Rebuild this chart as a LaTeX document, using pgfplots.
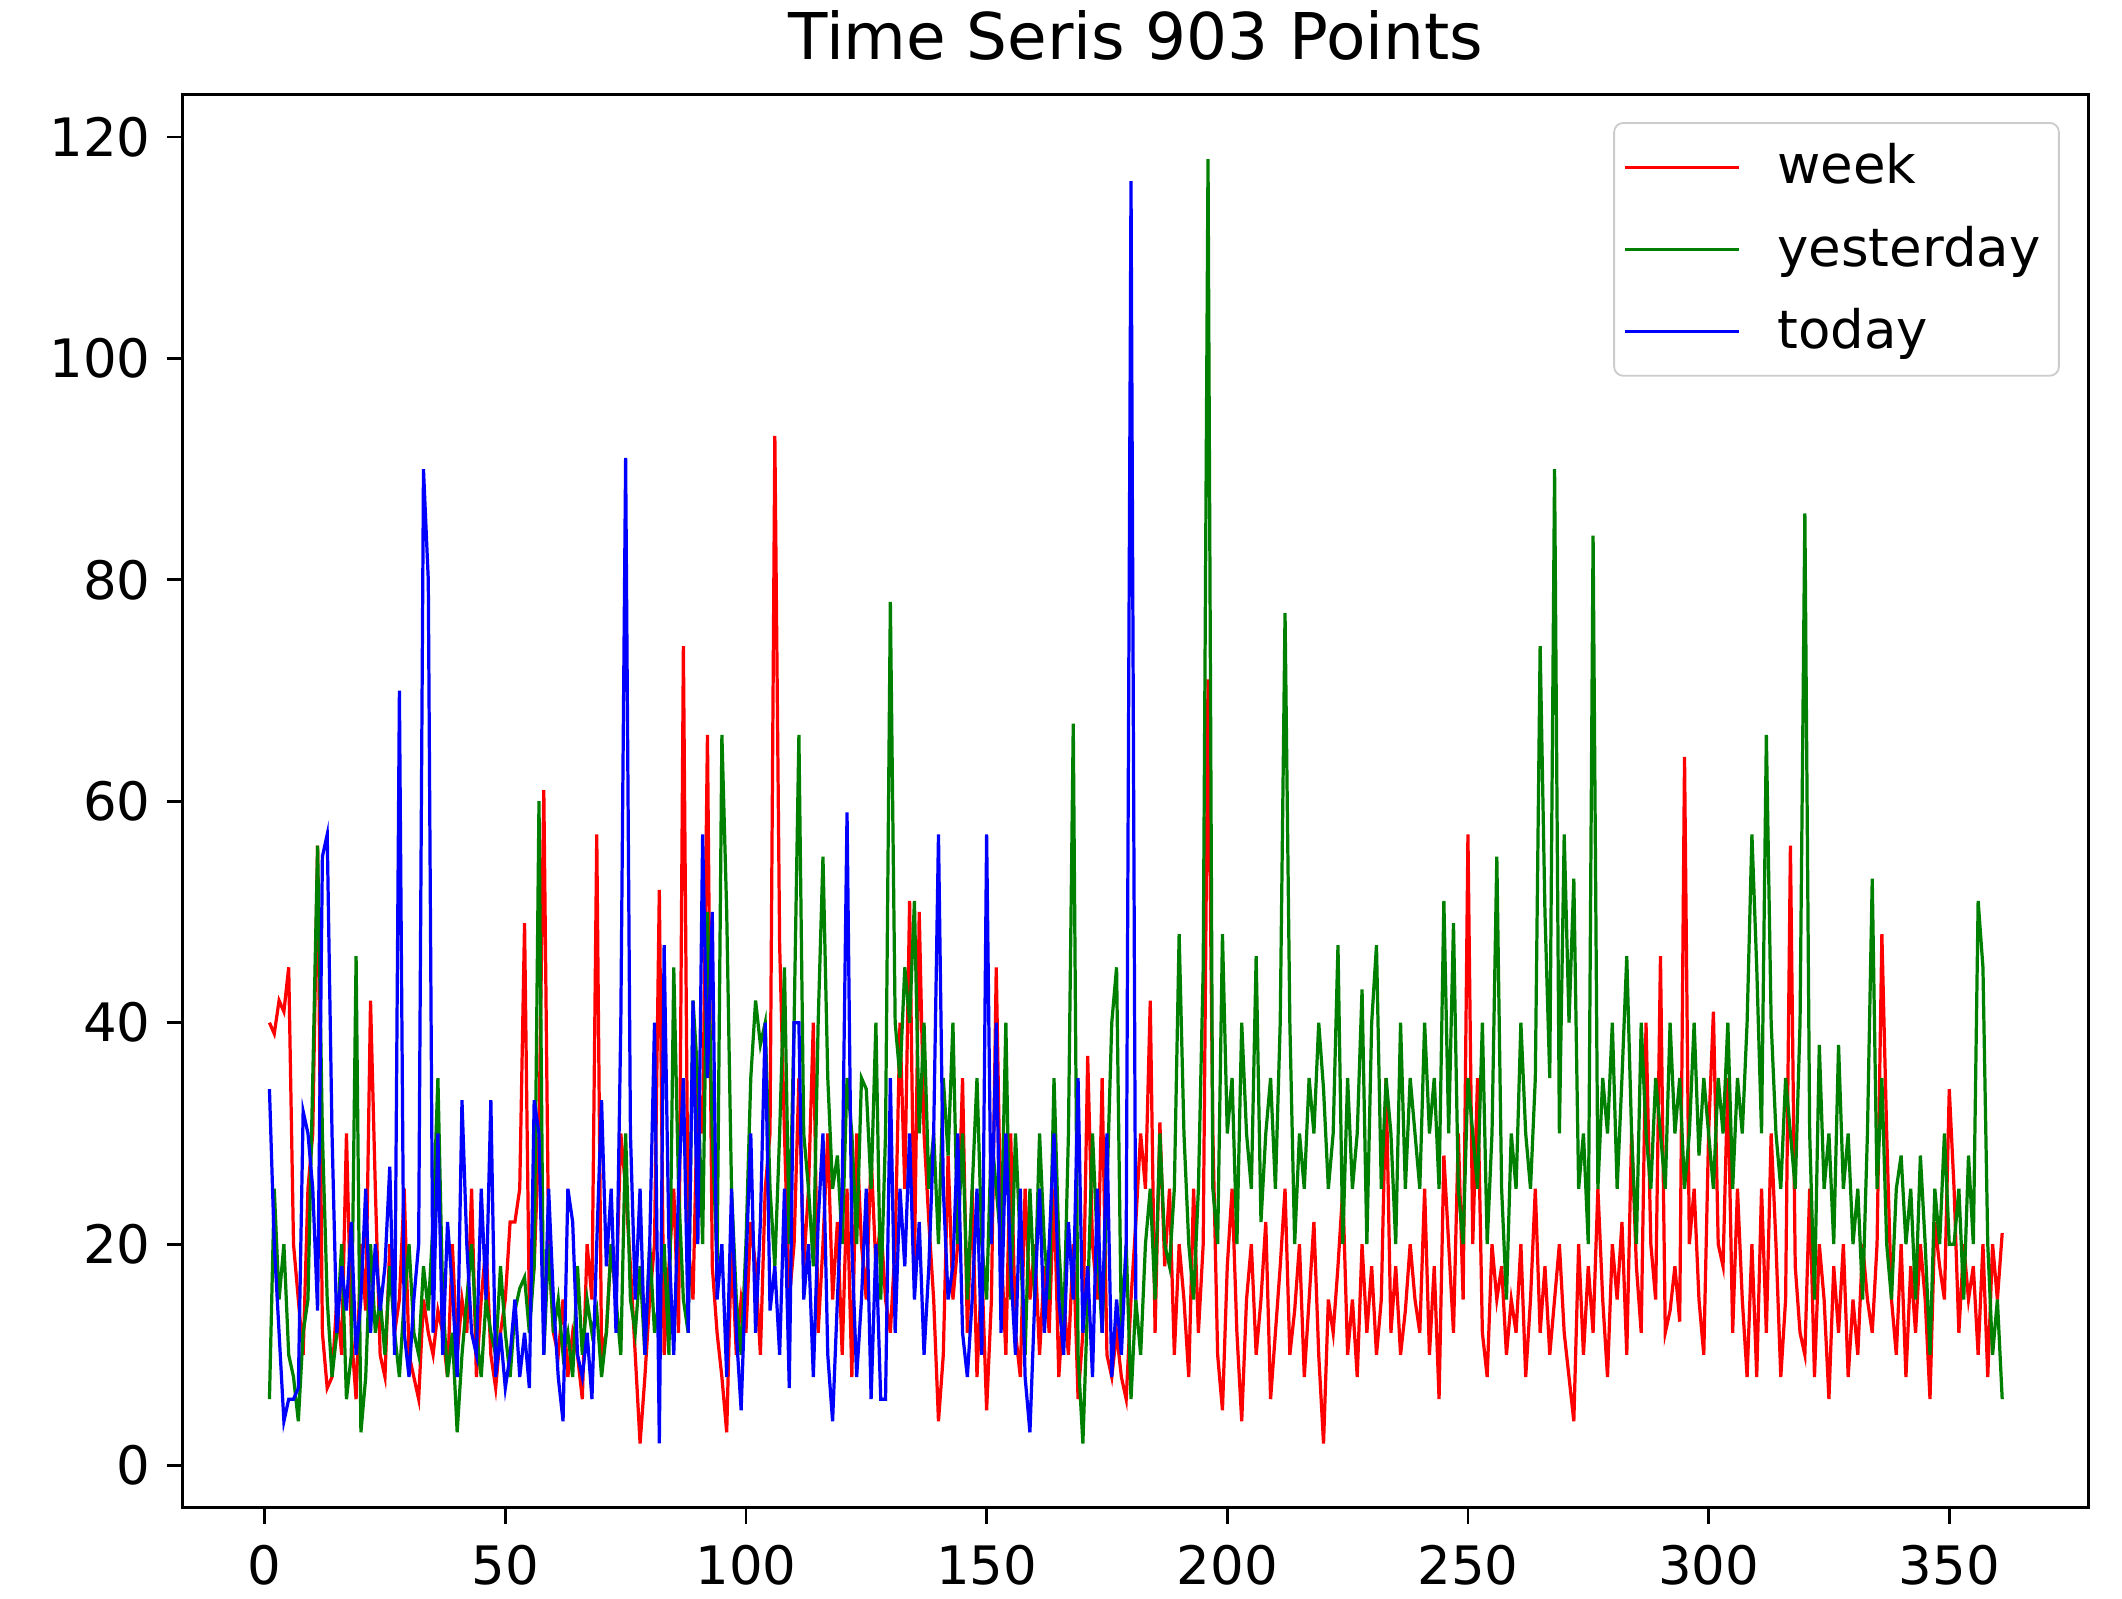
\documentclass[border=0pt]{standalone}
\usepackage{fontspec}
\setmainfont{DejaVu Sans}
\usepackage{pgfplots}
\usepackage{pgfplotstable}
\pgfplotsset{compat=1.18}
\usetikzlibrary{calc}

\pgfplotstableread[row sep=\\]{
y\\
40\\39\\42\\41\\45\\20\\15\\10\\25\\30\\
56\\12\\7\\8\\15\\10\\30\\12\\6\\20\\
14\\42\\25\\10\\8\\20\\12\\15\\25\\10\\
8\\6\\15\\12\\10\\14\\12\\8\\20\\10\\
15\\12\\25\\8\\15\\20\\10\\7\\12\\15\\
22\\22\\25\\49\\14\\18\\30\\61\\20\\12\\
10\\15\\8\\12\\10\\6\\20\\15\\57\\10\\
12\\20\\15\\30\\25\\18\\10\\2\\8\\15\\
20\\52\\10\\18\\25\\12\\74\\20\\15\\35\\
30\\66\\18\\12\\8\\3\\20\\10\\15\\12\\
22\\18\\10\\25\\30\\93\\47\\30\\15\\20\\
35\\18\\25\\40\\12\\20\\30\\15\\22\\10\\
25\\8\\30\\20\\15\\28\\18\\22\\15\\12\\
20\\40\\25\\51\\18\\50\\30\\22\\15\\4\\
10\\28\\15\\20\\35\\12\\25\\8\\18\\5\\
15\\45\\20\\10\\30\\12\\8\\25\\15\\20\\
10\\18\\12\\25\\8\\15\\10\\20\\6\\12\\
37\\20\\15\\35\\10\\8\\12\\8\\6\\15\\
22\\30\\25\\42\\12\\31\\18\\25\\10\\20\\
15\\8\\25\\12\\20\\71\\30\\10\\5\\18\\
25\\12\\4\\15\\20\\10\\15\\22\\6\\12\\
18\\25\\10\\14\\20\\8\\15\\22\\10\\2\\
15\\12\\18\\25\\10\\15\\8\\20\\12\\18\\
10\\15\\35\\12\\18\\10\\14\\20\\15\\12\\
25\\10\\18\\6\\28\\20\\12\\30\\15\\57\\
20\\35\\12\\8\\20\\15\\18\\10\\15\\12\\
20\\8\\15\\25\\12\\18\\10\\15\\20\\12\\
8\\4\\20\\10\\18\\12\\25\\15\\8\\20\\
15\\22\\10\\30\\18\\12\\40\\20\\15\\46\\
12\\14\\18\\13\\64\\20\\25\\15\\10\\30\\
41\\20\\18\\35\\12\\25\\15\\8\\20\\8\\
25\\12\\30\\20\\8\\15\\56\\18\\12\\10\\
25\\8\\20\\15\\6\\18\\12\\20\\8\\15\\
10\\20\\15\\12\\20\\48\\30\\15\\10\\20\\
8\\18\\12\\20\\15\\6\\22\\18\\15\\34\\
25\\12\\20\\15\\18\\10\\20\\8\\20\\15\\
21\\
}\weektable

\pgfplotstableread[row sep=\\]{
y\\
6\\25\\15\\20\\10\\8\\4\\12\\15\\35\\
56\\30\\15\\8\\12\\20\\6\\10\\46\\3\\
8\\20\\12\\15\\10\\18\\12\\8\\15\\20\\
12\\10\\18\\14\\22\\35\\15\\8\\12\\3\\
10\\15\\20\\12\\8\\15\\12\\10\\18\\12\\
8\\14\\16\\17\\12\\18\\60\\10\\20\\12\\
15\\10\\12\\8\\18\\10\\15\\12\\14\\8\\
12\\20\\15\\10\\30\\15\\12\\18\\10\\20\\
12\\15\\20\\10\\45\\25\\15\\12\\42\\35\\
20\\50\\30\\18\\66\\50\\25\\15\\10\\20\\
35\\42\\38\\40\\25\\18\\30\\45\\20\\40\\
66\\30\\25\\18\\40\\55\\35\\25\\28\\20\\
35\\30\\20\\35\\34\\25\\40\\15\\30\\78\\
40\\35\\45\\40\\51\\30\\40\\25\\30\\20\\
35\\28\\40\\20\\30\\15\\25\\35\\20\\15\\
30\\25\\20\\40\\15\\30\\20\\10\\25\\15\\
30\\20\\15\\35\\20\\12\\30\\67\\10\\2\\
15\\30\\20\\12\\25\\40\\45\\12\\20\\6\\
15\\10\\20\\25\\15\\30\\20\\18\\25\\48\\
30\\20\\15\\25\\45\\118\\25\\20\\48\\30\\
35\\20\\40\\30\\25\\46\\22\\30\\35\\25\\
40\\77\\40\\20\\30\\25\\35\\30\\40\\34\\
25\\30\\47\\20\\35\\25\\30\\43\\20\\40\\
47\\25\\35\\30\\20\\40\\25\\35\\30\\25\\
40\\30\\35\\25\\51\\30\\49\\25\\20\\35\\
30\\25\\40\\20\\30\\55\\25\\15\\30\\25\\
40\\30\\25\\35\\74\\50\\35\\90\\30\\57\\
40\\53\\25\\30\\20\\84\\25\\35\\30\\40\\
25\\35\\46\\30\\20\\40\\30\\25\\35\\30\\
25\\40\\30\\35\\25\\30\\40\\28\\35\\30\\
25\\35\\30\\40\\25\\35\\30\\40\\57\\45\\
30\\66\\40\\30\\25\\35\\30\\25\\40\\86\\
30\\15\\38\\25\\30\\20\\38\\25\\30\\20\\
25\\15\\30\\53\\25\\35\\20\\15\\25\\28\\
20\\25\\15\\28\\20\\10\\25\\20\\30\\20\\
20\\25\\15\\28\\20\\51\\45\\20\\10\\15\\
6\\
}\yesterdaytable

\pgfplotstableread[row sep=\\]{
y\\
34\\20\\12\\4\\6\\
6\\7\\32\\30\\25\\
14\\55\\57\\30\\12\\
18\\14\\22\\10\\15\\
25\\12\\20\\14\\18\\
27\\10\\70\\12\\8\\
15\\20\\90\\80\\12\\
30\\10\\22\\16\\8\\
33\\20\\12\\10\\25\\
15\\33\\8\\12\\7\\
10\\15\\8\\12\\7\\
33\\30\\10\\25\\15\\
8\\4\\25\\22\\10\\
8\\12\\6\\20\\33\\
18\\25\\12\\40\\91\\
30\\15\\25\\10\\20\\
40\\2\\47\\20\\10\\
25\\35\\12\\42\\20\\
57\\35\\50\\15\\20\\
8\\25\\12\\5\\18\\
30\\12\\22\\40\\14\\
18\\10\\25\\7\\40\\
40\\15\\20\\8\\22\\
30\\10\\4\\15\\25\\
59\\20\\8\\15\\25\\
6\\20\\6\\6\\35\\
12\\25\\18\\30\\15\\
22\\10\\18\\30\\57\\
25\\15\\18\\30\\12\\
8\\15\\25\\10\\57\\
20\\40\\12\\30\\18\\
10\\25\\8\\3\\15\\
25\\12\\20\\30\\15\\
10\\22\\15\\35\\12\\
18\\8\\25\\12\\30\\
8\\15\\10\\20\\116\\
15\\
}\todaytable

\begin{document}
\begin{tikzpicture}
\begin{axis}[
  name=ax,
  scale only axis,
  width=413.9pt, height=306.8pt,
  xmin=-17, xmax=379,
  ymin=-3.8, ymax=123.8,
  xtick={0,50,...,350},
  ytick={0,20,...,120},
  tick align=outside,
  tick pos=left,
  major tick length=3.5pt,
  every tick/.style={black, line width=0.6pt},
  axis line style={line width=0.6pt},
  tick label style={font=\fontsize{11.5}{13.8}\selectfont},
  xticklabel style={yshift=-1.2pt},
  /pgf/number format/assume math mode=true,
  title={Time Seris 903 Points},
  title style={font=\fontsize{14}{16.8}\selectfont, yshift=-2pt},
  legend cell align=left,
  legend style={at={(1,1)}, anchor=north east, xshift=-6.3pt, yshift=-5.9pt,
    draw=black!20, rounded corners=2pt, fill=white, fill opacity=0.8, text opacity=1,
    font=\fontsize{11.5}{13.8}\selectfont, row sep=3.6pt, inner xsep=2pt, inner ysep=2.5pt},
  legend image code/.code={\draw[#1] (0cm,0cm) -- (0.87cm,0cm); \path (0.87cm+6pt,0cm);},
]
\addplot[red, line width=0.7pt] table[x expr=\coordindex+1, y=y] {\weektable};
\addlegendentry{week}
\addplot[green!50!black, line width=0.7pt] table[x expr=\coordindex+1, y=y] {\yesterdaytable};
\addlegendentry{yesterday}
\addplot[blue, line width=0.7pt] table[x expr=\coordindex+1, y=y] {\todaytable};
\addlegendentry{today}
\end{axis}
\pgfresetboundingbox
\path ($(ax.south west)+(-39.7pt,-19.8pt)$) rectangle ($(ax.north east)+(7.2pt,20.6pt)$);
\end{tikzpicture}
\end{document}
